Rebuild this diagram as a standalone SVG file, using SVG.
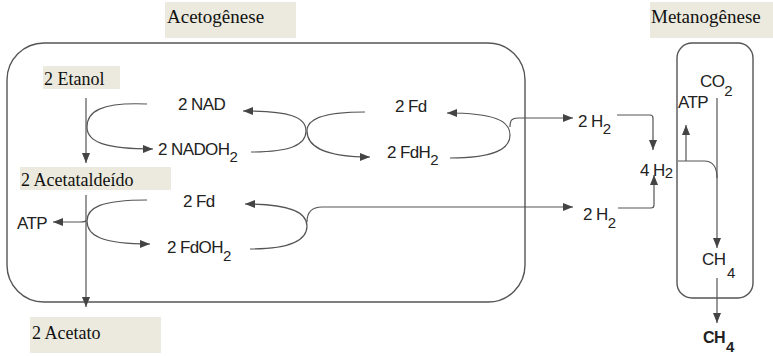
<svg xmlns="http://www.w3.org/2000/svg" width="773" height="356" viewBox="0 0 773 356">
  <style>
    .tag { fill: #ECEADE; }
    .box { fill: none; stroke: #555; stroke-width: 1.4; }
    .ln { fill: none; stroke: #555; stroke-width: 1.2; }
    .arw { marker-end: url(#head); }
    .serif { font-family: "Liberation Serif", "Times New Roman", serif; fill: #111; font-size: 18px; }
    .hdr { font-size: 19px; }
    .sans { font-family: "Liberation Sans", Arial, sans-serif; fill: #222; font-size: 17px; letter-spacing: -0.6px; }
    .sub { font-size: 15px; }
    .bold { font-weight: bold; font-size: 16px; }
  </style>
  <defs>
    <marker id="head" markerUnits="userSpaceOnUse" markerWidth="10" markerHeight="8" refX="10" refY="4" orient="auto">
      <path d="M0,0 L10,4 L0,8 z" fill="#444"/>
    </marker>
  </defs>

  <rect width="773" height="356" fill="#fff"/>

  <!-- stage frames and headings -->
  <g id="acetogenese">
    <rect class="box" x="7" y="43" width="518" height="259" rx="37"/>
    <rect class="tag" x="165" y="2" width="131" height="36"/>
    <text class="serif hdr" x="167" y="23">Acetogênese</text>
  </g>
  <g id="metanogenese">
    <rect class="box" x="677" y="43" width="76" height="255" rx="15"/>
    <rect class="tag" x="650" y="2" width="123" height="36"/>
    <text class="serif hdr" x="651" y="23">Metanogênese</text>
  </g>

  <!-- substrates and products -->
  <g id="etanol">
    <rect class="tag" x="43" y="66" width="77" height="23"/>
    <text class="serif" x="44" y="85">2 Etanol</text>
  </g>
  <g id="acetaldeido">
    <rect class="tag" x="20" y="167" width="151" height="23"/>
    <text class="serif" x="21" y="186">2 Acetataldeído</text>
  </g>
  <g id="acetato">
    <rect class="tag" x="30" y="317" width="131" height="36"/>
    <text class="serif" x="32" y="339">2 Acetato</text>
  </g>

  <!-- carriers -->
  <g id="nad"><text class="sans" x="178" y="110">2 NAD</text></g>
  <g id="nadoh2"><text class="sans" x="158" y="155">2 NADOH<tspan class="sub" dy="7">2</tspan></text></g>
  <g id="fd-top"><text class="sans" x="395" y="112">2 Fd</text></g>
  <g id="fdh2"><text class="sans" x="387" y="158">2 FdH<tspan class="sub" dy="7">2</tspan></text></g>
  <g id="fd-bottom"><text class="sans" x="183" y="207">2 Fd</text></g>
  <g id="fdoh2"><text class="sans" x="167" y="253">2 FdOH<tspan class="sub" dy="8">2</tspan></text></g>
  <g id="atp-left"><text class="sans" x="17" y="229">ATP</text></g>

  <!-- hydrogen pool -->
  <g id="h2-top"><text class="sans" x="578" y="127">2 H<tspan class="sub" dy="7">2</tspan></text></g>
  <g id="h2-bottom"><text class="sans" x="583" y="220">2 H<tspan class="sub" dy="8">2</tspan></text></g>
  <g id="h2-sum"><text class="sans" x="640" y="176">4 H<tspan class="sub" dy="2">2</tspan></text></g>

  <!-- methanogenic step -->
  <g id="co2"><text class="sans" x="700" y="87">CO<tspan class="sub" dy="9">2</tspan></text></g>
  <g id="atp-right"><text class="sans" x="678" y="108">ATP</text></g>
  <g id="ch4-in"><text class="sans" x="702" y="265">CH<tspan class="sub" x="727" dy="13">4</tspan></text></g>
  <g id="ch4-out"><text class="sans bold" x="703" y="343">CH<tspan class="sub" x="726" dy="9">4</tspan></text></g>

  <!-- connectors -->
  <g id="connectors">
    <path class="ln arw" d="M86,98 V163"/>
    <path class="ln arw" d="M147,104 C100,102 87,112 87,127 C87,142 105,149 153,149"/>
    <path class="ln arw" d="M251,152 C290,152 306,145 306,131 C306,117 290,111 243,111"/>
    <path class="ln arw" d="M365,112 C320,112 307,120 307,131 C307,145 322,157 370,157"/>
    <path class="ln arw" d="M450,158 C495,158 510,149 510,135 C510,121 495,113 447,113"/>
    <path class="ln arw" d="M510,127 C510,120 512,118 518,118 H573"/>
    <path class="ln arw" d="M617,115 H650 Q653,115 653,118 V150"/>
    <path class="ln arw" d="M618,208 H651 Q654,208 654,205 V175"/>
    <path class="ln arw" d="M86,195 V307"/>
    <path class="ln arw" d="M147,200 C100,200 87,208 87,221 C87,235 100,244 150,244"/>
    <path class="ln arw" d="M86,220 C86,222 84,222 80,222 H53"/>
    <path class="ln arw" d="M250,249 C290,249 307,240 307,226 C307,212 290,204 245,204"/>
    <path class="ln arw" d="M307,222 C307,212 312,207 322,207 H573"/>
    <path class="ln arw" d="M717,98 V248"/>
    <path class="ln" d="M678,161 H704 C712,161 717,166 717,178"/>
    <path class="ln arw" d="M686,161 V125"/>
    <path class="ln arw" d="M717,278 V323"/>
  </g>
</svg>
